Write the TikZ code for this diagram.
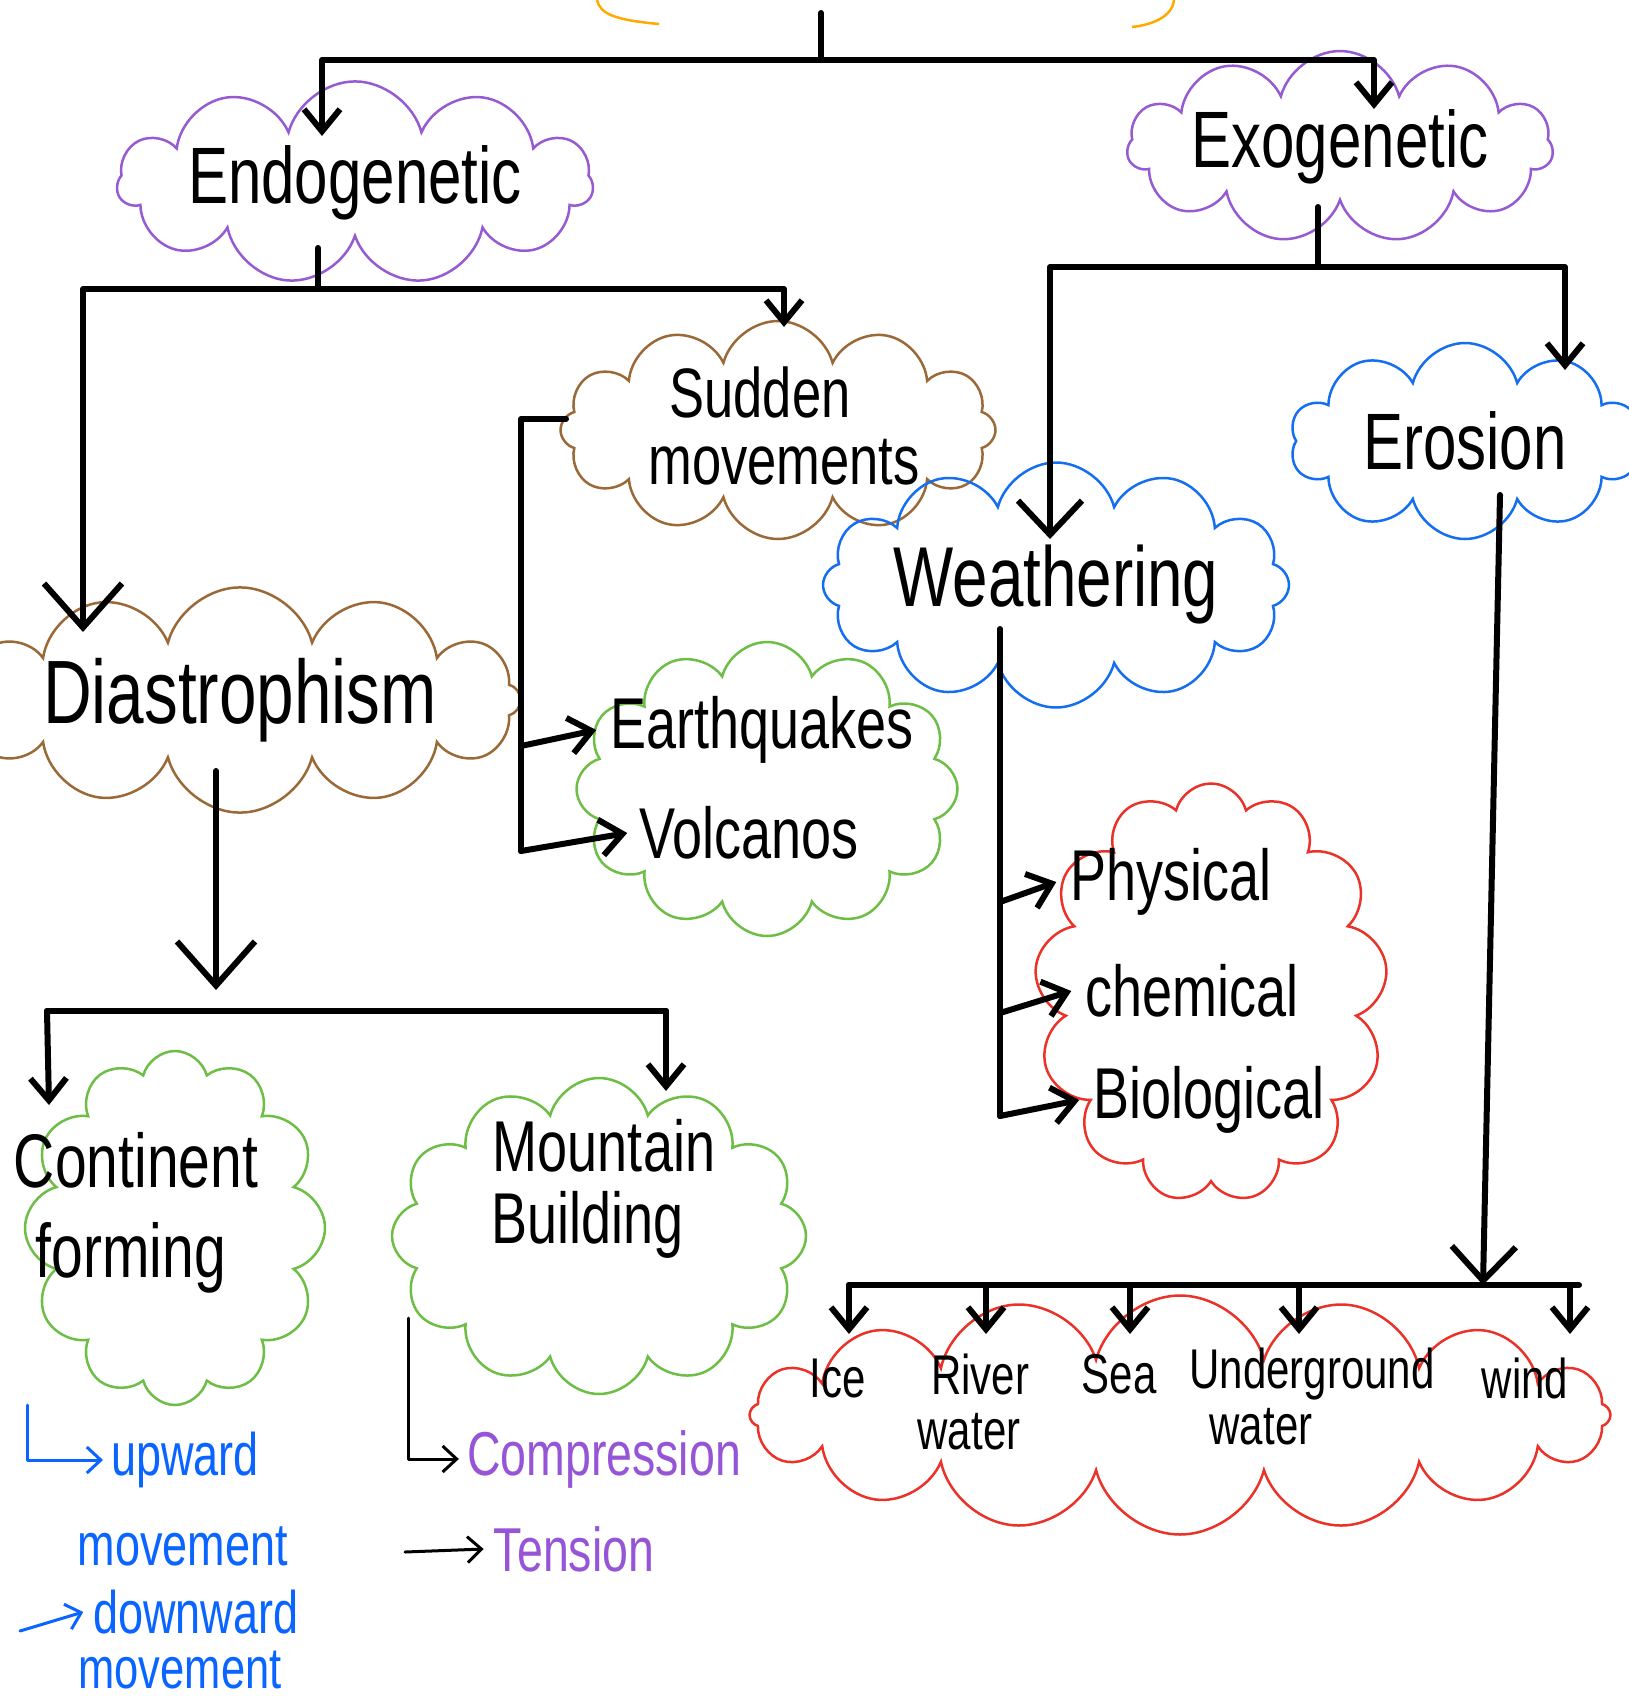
\documentclass[tikz,border=0pt]{standalone}
\usepackage{fontspec}
\setmainfont{Liberation Sans}[FakeStretch=0.75]
\usetikzlibrary{shapes.symbols,arrows.meta}
\newcommand\myfs[1]{\fontsize{#1}{#1}\selectfont}
\definecolor{purp}{RGB}{150,90,210}
\definecolor{brownc}{RGB}{155,105,55}
\definecolor{greenc}{RGB}{110,190,70}
\definecolor{bluec}{RGB}{20,110,240}
\definecolor{redc}{RGB}{235,50,40}
\definecolor{orangec}{RGB}{255,170,0}
\definecolor{textblue}{RGB}{10,100,255}
\definecolor{textpurp}{RGB}{150,85,215}
\begin{document}
\begin{tikzpicture}[x=1pt,y=-1pt,
  conn/.style={line width=6pt,line cap=round,line join=round},
  thinconn/.style={line width=3pt,line cap=round,line join=round},
  sarr/.style={-{Straight Barb[length=22pt,width=36pt]}},
  marr/.style={-{Straight Barb[length=34pt,width=64pt]}},
  barr/.style={-{Straight Barb[length=44pt,width=78pt]}},
  tarr/.style={-{Straight Barb[length=14pt,width=26pt]}},
  cloudy/.style={cloud,cloud ignores aspect,draw,line width=2.5pt,inner sep=0pt},
  lbl/.style={inner sep=0pt}
]
\useasboundingbox (0,0) rectangle (1628,1708);
\fill[white] (0,0) rectangle (1628,1708);

% partial top cloud
\draw[orangec,line width=2.5pt] (597,0) .. controls (600,14) and (615,20) .. (659,24);
\draw[orangec,line width=2.5pt] (1174,0) .. controls (1172,18) and (1150,25) .. (1132,27);

% clouds
\node[cloudy,cloud puffs=11,draw=purp,minimum width=448pt,minimum height=169pt,font=\myfs{80}] (endo) at (355,183) {Endogenetic};
\node[cloudy,cloud puffs=11,draw=purp,minimum width=403pt,minimum height=174pt,font=\myfs{80}] (exo) at (1340,147) {Exogenetic};
\node[cloudy,cloud puffs=12,draw=brownc,minimum width=435pt,minimum height=218pt] (sudden) at (778,430) {};
\node[cloudy,cloud puffs=12,draw=brownc,minimum width=471pt,minimum height=223pt,font=\myfs{90}] (dias) at (240,700) {Diastrophism};
\node[cloudy,cloud puffs=12,draw=greenc,minimum width=381pt,minimum height=294pt] (eqv) at (767,789) {};
\node[cloudy,cloud puffs=12,draw=bluec,minimum width=457pt,minimum height=245pt,font=\myfs{85}] (weather) at (1056,585) {Weathering};
\node[cloudy,cloud puffs=10,draw=bluec,minimum width=350pt,minimum height=196pt,font=\myfs{80}] (erosion) at (1465,441) {Erosion};
\node[cloudy,cloud puffs=13,draw=redc,minimum width=353pt,minimum height=419pt] (pcb) at (1211,993) {};
\node[cloudy,cloud puffs=12,draw=greenc,minimum width=300pt,minimum height=354pt] (cf) at (175,1228) {};
\node[cloudy,cloud puffs=12,draw=greenc,minimum width=414pt,minimum height=316pt] (mb) at (599,1236) {};
\node[cloudy,cloud puffs=16,draw=redc,minimum width=861pt,minimum height=239pt] (agents) at (1180,1415) {};

% texts inside clouds
\node[lbl,font=\myfs{70}] (sud) at (760,392) {Sudden};
\node[lbl,font=\myfs{70}] (mov) at (784,462) {movements};
\node[lbl,font=\myfs{72}] (eq) at (762,730) {Earthquakes};
\node[lbl,font=\myfs{72}] (vol) at (749,833) {Volcanos};
\node[lbl,font=\myfs{72}] (phys) at (1171,882) {Physical};
\node[lbl,font=\myfs{72}] (chem) at (1192,991) {chemical};
\node[lbl,font=\myfs{72}] (bio) at (1209,1100) {Biological};
\node[lbl,font=\myfs{76}] (cont) at (136,1160) {Continent};
\node[lbl,font=\myfs{76}] (forming) at (131,1258) {forming};
\node[lbl,font=\myfs{72}] (mount) at (604,1146) {Mountain};
\node[lbl,font=\myfs{72}] (build) at (588,1225) {Building};
\node[lbl,font=\myfs{56}] (ice) at (838,1378) {Ice};
\node[lbl,font=\myfs{56}] (river) at (980,1374) {River};
\node[lbl,font=\myfs{56}] (rwater) at (969,1432) {water};
\node[lbl,font=\myfs{56}] (sea) at (1119,1374) {Sea};
\node[lbl,font=\myfs{56}] (under) at (1312,1374) {Underground};
\node[lbl,font=\myfs{56}] (uwater) at (1261,1427) {water};
\node[lbl,font=\myfs{56}] (wind) at (1525,1378) {wind};

% free texts
\node[lbl,font=\myfs{60},text=textblue] (up) at (185,1460) {upward};
\node[lbl,font=\myfs{60},text=textblue] (upm) at (183,1546) {movement};
\node[lbl,font=\myfs{60},text=textblue] (down) at (196,1612) {downward};
\node[lbl,font=\myfs{58},text=textblue] (downm) at (180,1670) {movement};
\node[lbl,font=\myfs{62},text=textpurp] (comp) at (604,1459) {Compression};
\node[lbl,font=\myfs{62},text=textpurp] (tens) at (574,1549) {Tension};

% junction coordinates
\coordinate (topstem) at (821,13);
\coordinate (topbar) at (821,60);
\coordinate (endoIn) at (322,136);
\coordinate (exoIn) at (1374,109);
\coordinate (endoStem) at (318,248);
\coordinate (endoBar) at (318,289);
\coordinate (diasIn) at (83,632);
\coordinate (suddenIn) at (784,327);
\coordinate (suddenOut) at (566,419);
\coordinate (suddenLow) at (521,851);
\coordinate (eqJ) at (521,746);
\coordinate (diasStem) at (216,771);
\coordinate (diasArr) at (216,990);
\coordinate (diasBarL) at (47,1011);
\coordinate (diasBarR) at (666,1011);
\coordinate (cfIn) at (49,1105);
\coordinate (mbIn) at (666,1091);
\coordinate (exoStem) at (1318,207);
\coordinate (exoBar) at (1318,267);
\coordinate (weatherIn) at (1050,539);
\coordinate (erosionIn) at (1565,370);
\coordinate (wStem) at (1000,629);
\coordinate (wPhys) at (1000,902);
\coordinate (wChem) at (1000,1013);
\coordinate (wBio) at (1000,1116);
\coordinate (eStem) at (1500,495);
\coordinate (eBar) at (1483,1285);
\coordinate (barL) at (849,1285);
\coordinate (barR) at (1579,1285);

% connectors
\draw[conn] (topstem) -- (topbar);
\draw[conn,sarr] (topbar) -| (endoIn);
\draw[conn,sarr] (topbar) -| (exoIn);

\draw[conn] (endoStem) -- (endoBar);
\draw[conn,barr] (endoBar) -| (diasIn);
\draw[conn,sarr] (endoBar) -| (suddenIn);

\draw[conn] (suddenOut) -| (eqJ);
\draw[conn,sarr] (eqJ) -- ([xshift=-14pt]eq.west);
\draw[conn] (eqJ) -- (suddenLow);
\draw[conn,sarr] (suddenLow) -- ([xshift=-12pt]vol.west);

\draw[conn,barr] (diasStem) -- (diasArr);
\draw[conn] (diasBarL) -- (diasBarR);
\draw[conn,sarr] (diasBarL) -- (cfIn);
\draw[conn,sarr] (diasBarR) -- (mbIn);

\draw[conn] (exoStem) -- (exoBar);
\draw[conn,marr] (exoBar) -| (weatherIn);
\draw[conn,sarr] (exoBar) -| (erosionIn);

\draw[conn] (wStem) -- (wBio);
\draw[conn,sarr] (wPhys) -- ([xshift=-14pt]phys.west);
\draw[conn,sarr] (wChem) -- ([xshift=-14pt]chem.west);
\draw[conn,sarr] (wBio) -- ([xshift=-14pt]bio.west);

\draw[conn,marr] (eStem) -- (eBar);
\draw[conn] (barL) -- (barR);
\foreach \n/\x in {ice/849,river/986,sea/1130,under/1299,wind/1570}
  \draw[conn,sarr] (\x,1285) -- (\x,1334);

\draw[thinconn,textblue,tarr] (27,1405) |- ([xshift=-8pt]up.west);
\draw[thinconn,textblue,tarr] (20,1631) -- ([xshift=-10pt]down.west);
\draw[thinconn,tarr] (408,1318) |- ([xshift=-8pt]comp.west);
\draw[thinconn,tarr] (405,1552) -- ([xshift=-10pt]tens.west);
\end{tikzpicture}
\end{document}
